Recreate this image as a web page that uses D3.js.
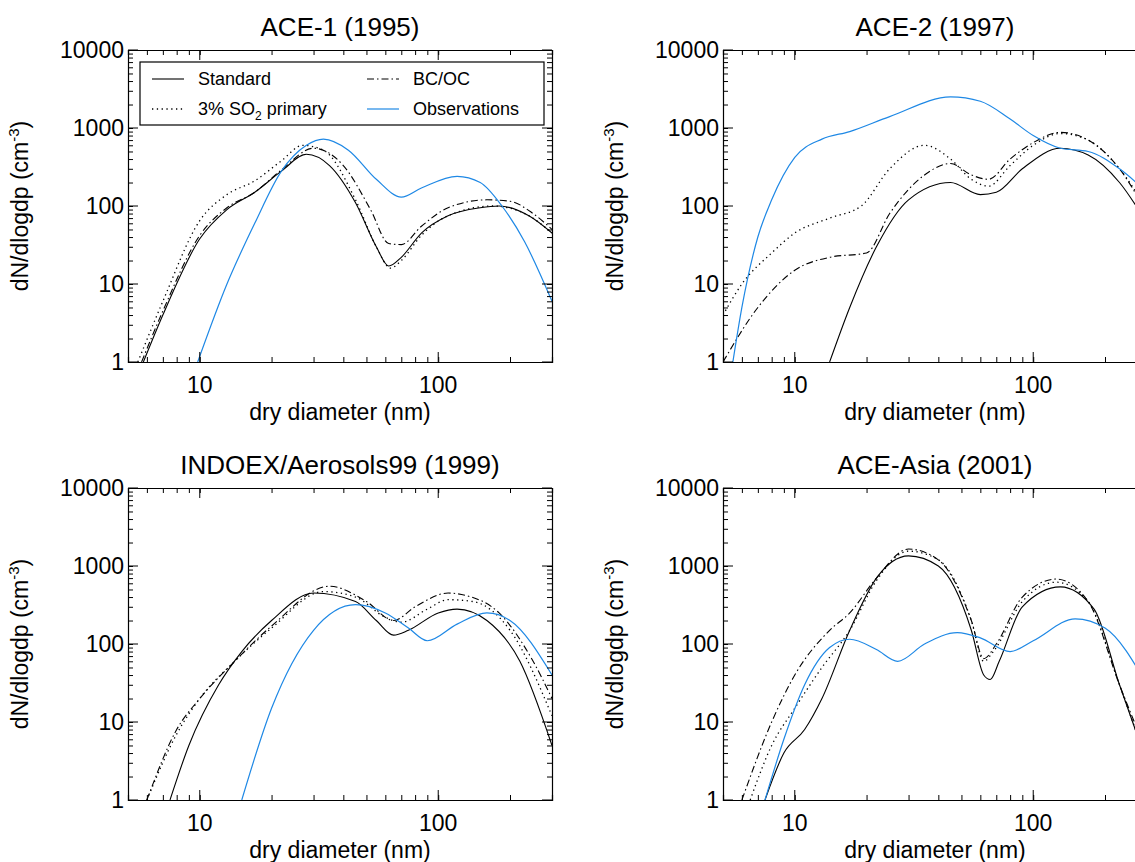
<!DOCTYPE html>
<html><head><meta charset="utf-8">
<script src="https://cdn.jsdelivr.net/npm/d3@7"></script>
<style>body{margin:0;background:#fff}text{font-family:"Liberation Sans",Arial,sans-serif}</style>
</head><body><svg id="c" width="1135" height="862"></svg>
<script>
// each series: [diameter nm, dN/dlogdp]
var titles = ['ACE-1 (1995)', 'ACE-2 (1997)', 'INDOEX/Aerosols99 (1999)', 'ACE-Asia (2001)'];
var xTicks = [10, 100];
var yTicks = [1, 10, 100, 1000, 10000];

var standard = [
  [[5.8,1],[7,4],[10,38],[13,90],[17,150],[22,280],[28,460],[35,330],[45,110],[55,30],[62,17],[70,22],[85,45],[110,75],[150,95],[180,100],[240,75],[300,45]],
  [[14,1],[17,5],[22,30],[30,120],[45,200],[60,140],[70,150],[90,300],[130,550],[170,450],[230,200],[300,60]],
  [[7.5,1],[9,5],[12,30],[15,80],[20,200],[30,450],[45,350],[55,200],[65,130],[75,150],[100,250],[120,280],[160,200],[220,60],[300,5]],
  [[7.5,1],[9,4],[11,8],[13,20],[17,150],[22,700],[30,1350],[40,1000],[55,150],[62,40],[66,35],[72,60],[90,300],[130,540],[180,280],[230,30],[300,3]]
];
var bcoc = [
  [[5.7,1],[7,4.5],[10,42],[13,95],[17,150],[22,290],[30,550],[40,330],[52,90],[62,33],[70,32],[85,55],[110,95],[160,120],[200,115],[250,80],[300,50]],
  [[5,1],[7,5],[10,15],[14,22],[20,25],[25,80],[35,250],[45,350],[55,250],[65,220],[80,400],[100,650],[130,880],[170,700],[230,300],[300,80]],
  [[6,1],[8,8],[10,20],[14,60],[20,170],[35,550],[50,350],[65,200],[80,300],[110,450],[130,420],[180,250],[250,60],[300,20]],
  [[6,1],[8,10],[10,40],[14,150],[17,250],[22,700],[30,1650],[40,1200],[55,200],[62,65],[70,100],[90,400],[125,680],[170,350],[230,30],[300,4]]
];
var primary = [
  [[5.5,1],[7,6],[10,65],[13,140],[17,210],[22,380],[27,600],[33,520],[45,120],[55,30],[63,16],[70,20],[85,42],[110,75],[170,100],[240,75],[300,45]],
  [[5,4],[6,10],[8,25],[10,45],[14,70],[19,100],[25,300],[35,600],[45,400],[55,220],[65,180],[80,330],[100,600],[130,850],[170,700],[230,300],[300,90]],
  [[6,1],[8,7],[10,20],[14,60],[20,160],[33,470],[45,400],[60,220],[70,190],[90,280],[110,370],[140,350],[200,150],[300,12]],
  [[6.5,1],[8,5],[10,15],[13,50],[17,150],[22,650],[30,1550],[40,1200],[55,200],[62,60],[68,80],[90,350],[125,620],[170,350],[230,30],[300,3]]
];
var observations = [
  [[9.8,1],[13,10],[17,60],[22,280],[28,600],[33,720],[42,520],[55,220],[70,130],[85,170],[120,240],[150,200],[185,100],[230,35],[300,6]],
  [[5.5,1],[6,5],[7,40],[8,120],[10,420],[13,720],[17,900],[25,1400],[45,2500],[60,2200],[80,1300],[100,800],[130,550],[170,500],[230,300],[300,150]],
  [[15,1],[20,15],[30,150],[45,320],[60,250],[75,160],[90,110],[120,180],[160,250],[200,200],[300,40]],
  [[7.5,1],[9,6],[11,30],[14,90],[17,115],[22,85],[27,60],[35,100],[48,140],[60,120],[80,80],[100,110],[150,210],[200,160],[300,30]]
];

var svg = d3.select('#c');
var W = 424, H = 312;
var origins = [[128,50],[723,50],[128,488],[723,488]];

var styles = [
  {data: standard, dash: null, color: '#000', w: 1.1},
  {data: bcoc, dash: '7,3,1.5,3', color: '#000', w: 1.1},
  {data: primary, dash: '1.3,3.5', color: '#000', w: 1.3},
  {data: observations, dash: null, color: '#1e88e5', w: 1.2}
];

titles.forEach(function(t, i){
  var ox = origins[i][0], oy = origins[i][1];
  var g = svg.append('g').attr('transform', 'translate(' + ox + ',' + oy + ')');
  var x = d3.scaleLog().domain([5, 300]).range([0, W]);
  var y = d3.scaleLog().domain([1, 10000]).range([H, 0]);

  g.append('clipPath').attr('id', 'clip' + i).append('rect').attr('width', W).attr('height', H);

  var line = d3.line().x(function(d){return x(d[0]);}).y(function(d){return y(d[1]);})
    .curve(d3.curveMonotoneX);
  styles.forEach(function(s){
    g.append('path').attr('clip-path', 'url(#clip' + i + ')')
      .attr('d', line(s.data[i])).attr('fill', 'none')
      .attr('stroke', s.color).attr('stroke-width', s.w)
      .attr('stroke-dasharray', s.dash);
  });

  // axes: ticks inside, all four sides
  var xMinor = x.ticks(), yMinor = y.ticks();
  var ax = [
    d3.axisBottom(x).tickValues(xMinor).tickSize(-5).tickFormat(''),
    d3.axisTop(x).tickValues(xMinor).tickSize(-5).tickFormat(''),
    d3.axisLeft(y).tickValues(yMinor).tickSize(-5).tickFormat(''),
    d3.axisRight(y).tickValues(yMinor).tickSize(-5).tickFormat('')
  ];
  var pos = ['translate(0,' + H + ')', null, null, 'translate(' + W + ',0)'];
  ax.forEach(function(a, k){
    var ag = g.append('g').attr('transform', pos[k]).call(a);
    ag.select('.domain').attr('stroke', '#000').attr('stroke-width', 1.2);
    ag.selectAll('.tick line').attr('stroke', '#000');
  });
  // major ticks longer
  xTicks.forEach(function(v){
    g.append('line').attr('x1', x(v)).attr('x2', x(v)).attr('y1', H).attr('y2', H - 10).attr('stroke', '#000');
    g.append('line').attr('x1', x(v)).attr('x2', x(v)).attr('y1', 0).attr('y2', 10).attr('stroke', '#000');
    g.append('text').attr('x', x(v)).attr('y', H + 31).attr('text-anchor', 'middle')
      .attr('font-size', 23).text(v);
  });
  yTicks.forEach(function(v){
    g.append('line').attr('x1', 0).attr('x2', 10).attr('y1', y(v)).attr('y2', y(v)).attr('stroke', '#000');
    g.append('line').attr('x1', W).attr('x2', W - 10).attr('y1', y(v)).attr('y2', y(v)).attr('stroke', '#000');
    g.append('text').attr('x', -4).attr('y', y(v) + 8).attr('text-anchor', 'end')
      .attr('font-size', 23).text(v);
  });

  g.append('text').attr('x', W / 2).attr('y', -14).attr('text-anchor', 'middle')
    .attr('font-size', 26).text(t);
  g.append('text').attr('x', W / 2).attr('y', H + 58).attr('text-anchor', 'middle')
    .attr('font-size', 23).text('dry diameter (nm)');
  var yl = g.append('text').attr('transform', 'translate(-100,' + (H / 2) + ') rotate(-90)')
    .attr('text-anchor', 'middle').attr('font-size', 23);
  yl.append('tspan').text('dN/dlogdp (cm');
  yl.append('tspan').attr('font-size', 15).attr('dy', -9).text('-3');
  yl.append('tspan').attr('dy', 9).text(')');

  if (i == 0) {
    var lg = g.append('g').attr('transform', 'translate(12,12)');
    lg.append('rect').attr('width', 404).attr('height', 63).attr('fill', '#fff')
      .attr('stroke', '#000').attr('stroke-width', 1.2);
    var items = [[0, 'Standard', 10, 22], [1, 'BC/OC', 225, 22], [2, '3% SO', 10, 52], [3, 'Observations', 225, 52]];
    items.forEach(function(it){
      var s = styles[it[0]];
      lg.append('line').attr('x1', it[2] + 2).attr('x2', it[2] + 34).attr('y1', it[3] - 5).attr('y2', it[3] - 5)
        .attr('stroke', s.color).attr('stroke-width', s.w).attr('stroke-dasharray', s.dash);
      var tx = lg.append('text').attr('x', it[2] + 48).attr('y', it[3] + 1).attr('font-size', 18).text(it[1]);
      if (it[0] == 2) {
        tx.append('tspan').attr('font-size', 12).attr('dy', 5).text('2');
        tx.append('tspan').attr('dy', -5).text(' primary');
      }
    });
  }
});
</script></body></html>
